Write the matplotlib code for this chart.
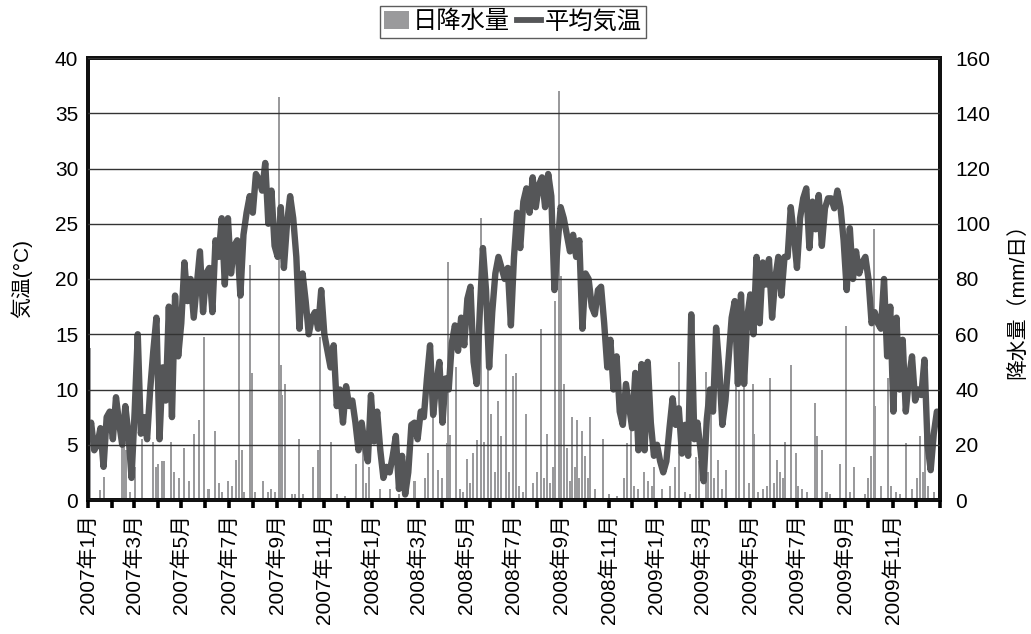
import datetime as dt
import numpy as np
import matplotlib
matplotlib.use("Agg")
import matplotlib.pyplot as plt
import matplotlib.dates as mdates
from matplotlib.patches import Patch
from matplotlib.lines import Line2D

plt.rcParams['font.family'] = ['Liberation Sans', 'Noto Sans CJK JP']

START = dt.date(2007, 1, 1)
STEP_DAYS = 4

temp_2007 = [5.5, 7, 4.5, 5, 6.5, 3, 7.5, 8, 5.5, 9.3, 7, 5, 8.5, 6, 2, 8,
             15, 6, 7.5, 5.5, 10, 13.5, 16.5, 5.5, 12, 9, 17.5, 7.5, 18.5, 13, 16, 21.5,
             18, 20, 16.5, 19.5, 22.5, 17, 20.5, 21, 17, 23.5, 22, 25.5, 19.5, 25.5, 20.5, 23,
             23.5, 18.5, 24, 26, 27.5, 26, 29.5, 29, 28, 30.5, 25, 28, 23, 22, 26.5, 21,
             25, 27.5, 25.5, 22, 15.5, 20.5, 18, 15, 16.5, 17, 15.5, 19, 15, 13.5, 12, 14,
             8.5, 10, 7, 10.3, 8.5, 9, 7, 4.5, 7, 5, 3.5, 9.5]
temp_2008 = [5.3, 8, 4.5, 2, 3, 2.5, 4, 5.8, 1.0, 4, 0.5, 2.5, 6.8, 7, 5.5, 8,
             7.5, 11, 14, 7.7, 10.5, 12.5, 7, 11, 10, 14.2, 15.8, 13.5, 16.5, 14, 18.2, 19.3,
             12.5, 10.5, 17, 22.8, 19, 12, 17, 20.5, 22, 21, 20, 21, 15.8, 22, 26, 22.8,
             27, 28.2, 26, 29.2, 26.5, 28.5, 29.2, 26.5, 29.5, 27.5, 19, 23, 26.5, 25.5, 24, 22.5,
             24, 22, 23.5, 15.5, 20.5, 20, 17.5, 16.8, 19, 19.3, 16, 12, 14.5, 10, 13, 8,
             6.8, 10.5, 8.5, 6.5, 11.5, 4.5, 12.3, 4.5, 12.5, 7, 4]
temp_2009 = [5, 3.5, 2.5, 3.5, 6.5, 9.2, 6.8, 8.3, 4.2, 6.8, 4, 16.8, 5.5, 7, 4.5, 1.7,
             7.3, 10, 8, 15.6, 12, 6.8, 9, 12.8, 16.5, 18, 10.5, 18.6, 10.5, 16.5, 18.6, 15,
             22, 16, 21.5, 19.5, 21.8, 16.5, 20, 22, 18.5, 22, 22, 26.5, 24, 21, 25.5, 27.3,
             28.2, 22.8, 27, 24.5, 27.6, 23, 26.4, 27.3, 27.3, 26.4, 28, 26.5, 23.5, 19, 24.6, 20,
             22.5, 20.5, 21.5, 22, 20, 16, 17, 16, 15.5, 20, 13, 17.5, 8, 16.5, 10, 14.5,
             8, 11, 13, 9, 10, 9.5, 12.7, 5, 2.7, 6, 8]

# daily precipitation: day offset from 2007-01-01 and amount (mm/day)
rain_day_2007 = [3, 15, 20, 44, 46, 49, 54, 61, 69, 83, 87, 90, 95, 98, 107, 110, 117, 124, 130,
                 136, 143, 149, 155, 164, 168, 172, 180, 185, 190, 194, 198, 201, 209, 211, 215,
                 225, 232, 236, 240, 246, 248, 250, 254, 262, 266, 271, 277, 290, 296, 299, 312,
                 320, 330, 345, 354, 358]
rain_mm_2007 = [55, 3.5, 8.5, 30, 20, 18, 3, 12, 22, 21, 12, 13, 14, 14, 21, 10, 8, 19, 7,
                24, 29, 59, 4, 25, 6, 3, 7, 5, 14.5, 76, 18, 3, 85, 46, 3,
                7, 3, 4, 3, 146, 49, 38, 42, 2, 2, 22, 2, 12, 18, 59, 21,
                2, 1.5, 13, 21, 6]
rain_day_2008 = [362, 375, 388, 400, 420, 433, 438, 444, 450, 455, 462, 463, 466, 473, 478, 482,
                 487, 491, 495, 500, 506, 509, 514, 519, 523, 527, 531, 538, 542, 547, 550, 555,
                 560, 564, 573, 577, 583, 587, 590, 594, 598, 601, 606, 609, 612, 616, 620, 623,
                 626, 629, 632, 635, 639, 643, 646, 652, 662, 670, 680, 690, 693, 698, 702, 708,
                 715, 721, 726]
rain_mm_2008 = [12, 4, 4, 2, 7, 8, 17, 31, 11, 8, 20.5, 86, 23.6, 48, 4, 3,
                15, 6, 17, 21.8, 102, 21, 47, 31, 10, 36, 23, 53, 10, 45, 46, 5,
                3, 31, 6, 10, 62, 8, 24, 6, 12, 72, 148, 81, 42, 19, 7, 30,
                12, 29, 8, 25, 16, 8, 30, 4, 22, 2, 1.5, 8, 20.5, 29, 5, 4,
                10, 7, 5]
rain_day_2009 = [728, 739, 749, 755, 760, 768, 775, 782, 786, 795, 798, 801, 805, 811, 816, 821,
                 833, 838, 844, 850, 855, 857, 862, 868, 873, 877, 882, 886, 890, 894, 897, 904,
                 911, 913, 918, 925, 935, 938, 944, 950, 955, 967, 975, 980, 986, 1000, 1003, 1007,
                 1011, 1013, 1020, 1029, 1033, 1040, 1045, 1052, 1060, 1066, 1070, 1074, 1077,
                 1081, 1088]
rain_mm_2009 = [12, 4, 5, 12, 50, 3, 2, 15.7, 14, 46.5, 10, 35, 8, 14.5, 4, 11,
                43.5, 40, 45, 6, 42, 24, 3, 4, 5, 44, 6, 14.5, 10, 8, 21, 49,
                17, 5, 4, 3, 35, 23, 18, 3, 2, 13, 63, 3, 12, 2, 8, 16,
                98, 34, 5, 44, 5, 3, 2, 20.5, 4, 8, 23, 10, 45,
                5, 3]

temps = temp_2007 + temp_2008 + temp_2009
t_dates = [START + dt.timedelta(days=STEP_DAYS * i) for i in range(len(temps))]
rain_days = rain_day_2007 + rain_day_2008 + rain_day_2009
rain_mm = rain_mm_2007 + rain_mm_2008 + rain_mm_2009
r_dates = [START + dt.timedelta(days=d) for d in rain_days]

W, H = 1031, 634
fig = plt.figure(figsize=(W / 100, H / 100), dpi=100)
ax = fig.add_axes([88 / W, 1 - 500 / H, (940 - 88) / W, (500 - 58) / H])
ax2 = ax.twinx()

BAR_C = '#9a9a9c'
LINE_C = '#555658'

ax2.bar(r_dates, rain_mm, width=2.6, color=BAR_C, linewidth=0, align='center')
ax.plot(t_dates, temps, color=LINE_C, lw=4.6, solid_joinstyle='round', solid_capstyle='round')

ax.set_zorder(2)
ax2.set_zorder(1)
ax.patch.set_visible(False)

ax.set_ylim(0, 40)
ax2.set_ylim(0, 160)
ax.set_yticks(np.arange(0, 41, 5))
ax2.set_yticks(np.arange(0, 161, 20))
ax.set_xlim(dt.date(2007, 1, 1), dt.date(2010, 1, 1))

ax.yaxis.grid(True, color='#333333', lw=1.0)
ax.set_axisbelow(False)
ax.xaxis.grid(False)

ax.xaxis.set_major_locator(mdates.MonthLocator(bymonth=[1, 3, 5, 7, 9, 11]))
ax.xaxis.set_minor_locator(mdates.MonthLocator())


def fmt(x, pos=None):
    d = mdates.num2date(x)
    if d.year >= 2010:
        return ''
    return f"{d.year}年{d.month}月"


ax.xaxis.set_major_formatter(plt.FuncFormatter(fmt))
ax.tick_params(axis='x', which='both', direction='out', length=6, width=2.6, color='black')
ax.tick_params(axis='x', which='major', labelsize=15, rotation=90, pad=4)
ax.tick_params(axis='y', length=0, labelsize=15, pad=7)
ax2.tick_params(axis='y', length=0, labelsize=15, pad=11)
ax2.tick_params(axis='x', length=0)

for lab in ax.get_xticklabels():
    lab.set_horizontalalignment('center')
    lab.set_verticalalignment('top')

for a in (ax, ax2):
    for s in a.spines.values():
        s.set_linewidth(2.8)
        s.set_color('#111111')

fig.text(21 / W, 1 - 279 / H, '気温(°C)', rotation=90, ha='center', va='center', fontsize=15)
fig.text(1017 / W, 1 - 296 / H, '降水量（mm/日）', rotation=90, ha='center', va='center', fontsize=15)

handles = [Patch(facecolor=BAR_C, edgecolor='none'),
           Line2D([0], [0], color=LINE_C, lw=4.2)]
leg = fig.legend(handles, ['日降水量', '平均気温'], loc='center',
                 bbox_to_anchor=(513 / W, 1 - 22 / H), ncol=2, fontsize=17.5,
                 frameon=True, fancybox=False, edgecolor='#333333',
                 handlelength=1.0, handleheight=0.75, handletextpad=0.15,
                 columnspacing=0.3, borderpad=0.2, borderaxespad=0)
leg.get_frame().set_linewidth(1.0)

fig.savefig('out.png', dpi=100)
